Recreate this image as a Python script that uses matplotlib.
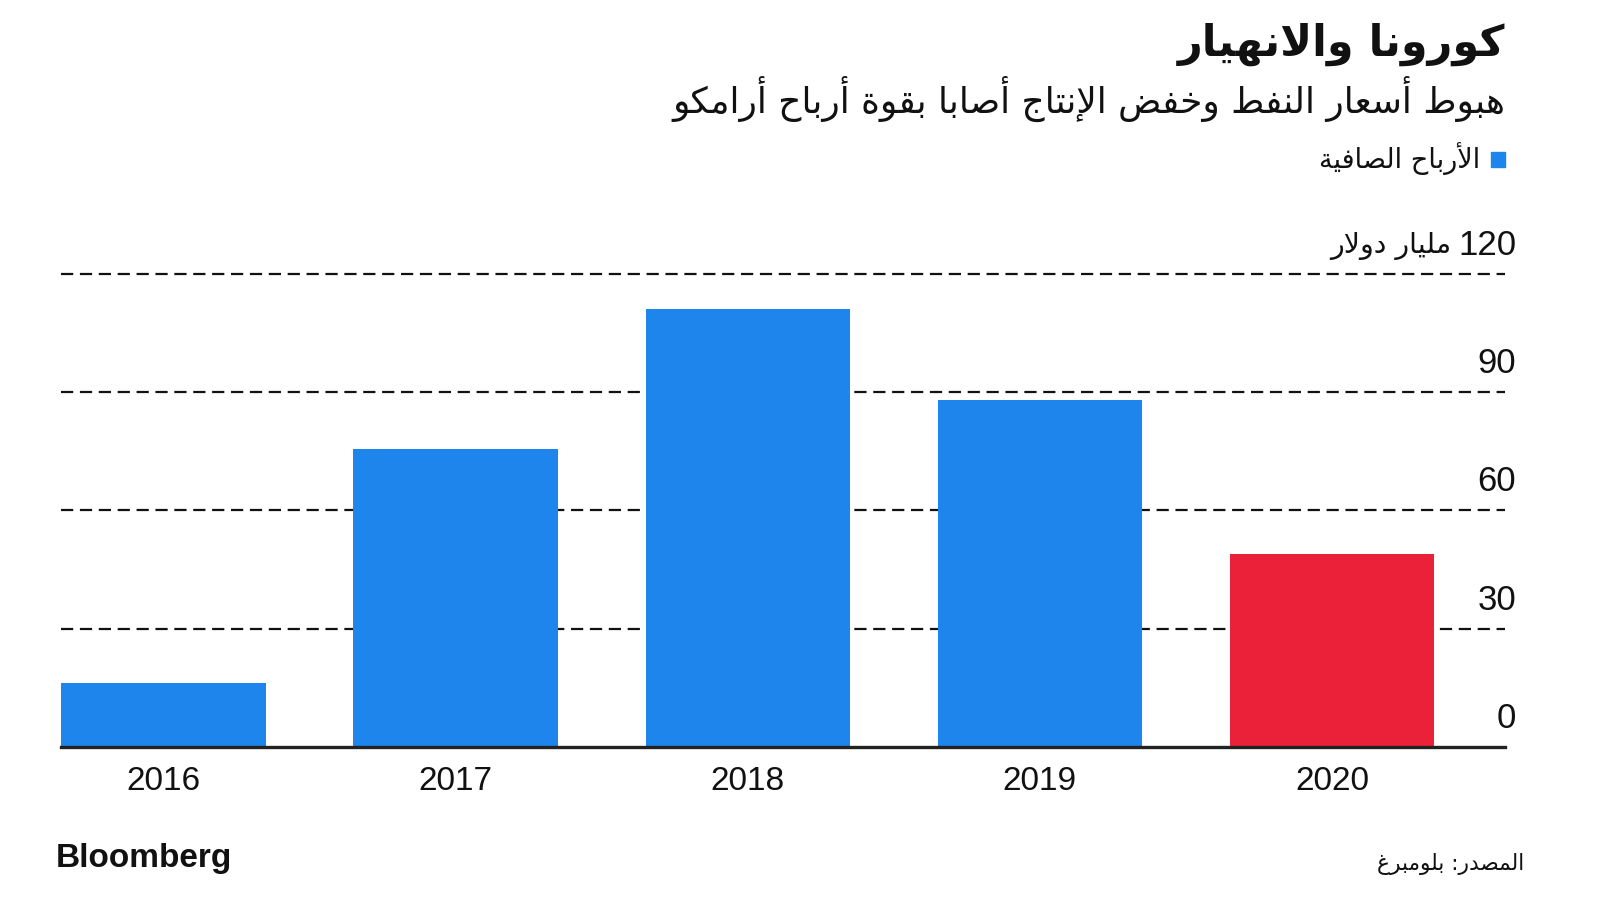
import matplotlib
matplotlib.use("Agg")
import matplotlib.pyplot as plt
from matplotlib.patches import Rectangle

# ---------------- data ----------------
years = ["2016", "2017", "2018", "2019", "2020"]
net_profit = [16.3, 75.4, 111.0, 88.0, 48.9]
bar_colors = ["#1E85EC", "#1E85EC", "#1E85EC", "#1E85EC", "#EB2139"]
y_ticks = [0, 30, 60, 90, 120]
y_tick_labels = ["0", "30", "60", "90", "120"]
unit_label = "مليار دولار"
title = "كورونا والانهيار"
subtitle = "هبوط أسعار النفط وخفض الإنتاج أصابا بقوة أرباح أرامكو"
legend_label = "الأرباح الصافية"
source = "المصدر: بلومبرغ"

# ---------------- minimal Arabic shaping ----------------
FORMS = {
    'ا': (0xFE8D, 0xFE8E, None, None),
    'أ': (0xFE83, 0xFE84, None, None),
    'إ': (0xFE87, 0xFE88, None, None),
    'آ': (0xFE81, 0xFE82, None, None),
    'ب': (0xFE8F, 0xFE90, 0xFE91, 0xFE92),
    'ة': (0xFE93, 0xFE94, None, None),
    'ت': (0xFE95, 0xFE96, 0xFE97, 0xFE98),
    'ث': (0xFE99, 0xFE9A, 0xFE9B, 0xFE9C),
    'ج': (0xFE9D, 0xFE9E, 0xFE9F, 0xFEA0),
    'ح': (0xFEA1, 0xFEA2, 0xFEA3, 0xFEA4),
    'خ': (0xFEA5, 0xFEA6, 0xFEA7, 0xFEA8),
    'د': (0xFEA9, 0xFEAA, None, None),
    'ذ': (0xFEAB, 0xFEAC, None, None),
    'ر': (0xFEAD, 0xFEAE, None, None),
    'ز': (0xFEAF, 0xFEB0, None, None),
    'س': (0xFEB1, 0xFEB2, 0xFEB3, 0xFEB4),
    'ش': (0xFEB5, 0xFEB6, 0xFEB7, 0xFEB8),
    'ص': (0xFEB9, 0xFEBA, 0xFEBB, 0xFEBC),
    'ض': (0xFEBD, 0xFEBE, 0xFEBF, 0xFEC0),
    'ط': (0xFEC1, 0xFEC2, 0xFEC3, 0xFEC4),
    'ظ': (0xFEC5, 0xFEC6, 0xFEC7, 0xFEC8),
    'ع': (0xFEC9, 0xFECA, 0xFECB, 0xFECC),
    'غ': (0xFECD, 0xFECE, 0xFECF, 0xFED0),
    'ف': (0xFED1, 0xFED2, 0xFED3, 0xFED4),
    'ق': (0xFED5, 0xFED6, 0xFED7, 0xFED8),
    'ك': (0xFED9, 0xFEDA, 0xFEDB, 0xFEDC),
    'ل': (0xFEDD, 0xFEDE, 0xFEDF, 0xFEE0),
    'م': (0xFEE1, 0xFEE2, 0xFEE3, 0xFEE4),
    'ن': (0xFEE5, 0xFEE6, 0xFEE7, 0xFEE8),
    'ه': (0xFEE9, 0xFEEA, 0xFEEB, 0xFEEC),
    'و': (0xFEED, 0xFEEE, None, None),
    'ى': (0xFEEF, 0xFEF0, None, None),
    'ي': (0xFEF1, 0xFEF2, 0xFEF3, 0xFEF4),
}
LAM_ALEF = {'ا': (0xFEFB, 0xFEFC), 'أ': (0xFEF7, 0xFEF8),
            'إ': (0xFEF9, 0xFEFA), 'آ': (0xFEF5, 0xFEF6)}


def shape_word(s):
    out = []
    i = 0
    n = len(s)
    prev_joins = False  # previous glyph connects forward
    while i < n:
        c = s[i]
        if c not in FORMS:
            out.append(c)
            prev_joins = False
            i += 1
            continue
        if c == 'ل' and i + 1 < n and s[i + 1] in LAM_ALEF:
            iso, fin = LAM_ALEF[s[i + 1]]
            out.append(chr(fin if prev_joins else iso))
            prev_joins = False
            i += 2
            continue
        iso, fin, ini, med = FORMS[c]
        nxt = s[i + 1] if i + 1 < n else None
        can_next = ini is not None and nxt is not None and nxt in FORMS
        if prev_joins and can_next:
            g = med
        elif prev_joins:
            g = fin
        elif can_next:
            g = ini
        else:
            g = iso
        out.append(chr(g))
        prev_joins = can_next
        i += 1
    return "".join(out)


def ar(s):
    """Return visual (LTR) order of shaped Arabic text."""
    return shape_word(s)[::-1]


# ---------------- figure ----------------
plt.rcParams['font.family'] = ['Liberation Sans', 'DejaVu Sans']
fig = plt.figure(figsize=(16, 9), dpi=100)
W, H = 1600, 900


def fx(px):
    return px / W


def fy(py):
    return 1 - py / H


ax = fig.add_axes([fx(61), fy(747), fx(1505) - fx(61), fy(273.5) - fy(747)])
x = list(range(len(years)))
ax.bar(x, net_profit, width=0.70, color=bar_colors, zorder=3)
ax.set_xlim(-0.351, 4.592)
ax.set_ylim(0, 120)

for v in y_ticks[1:]:
    ax.axhline(v, color="#111111", lw=1.6, linestyle=(0, (5.5, 3)), zorder=1, clip_on=False)
ax.axhline(0, color="#222222", lw=2.4, zorder=4, clip_on=False)

for s in ax.spines.values():
    s.set_visible(False)
ax.set_xticks([])
ax.set_yticks([])

# year labels
for xi, yr in zip(x, years):
    ax.annotate(yr, (xi, 0), xytext=(0, -25), textcoords="offset points",
                ha="center", va="center", fontsize=24, color="#111111")

# y tick labels (right side, above the gridlines)
for v, lab in zip(y_ticks, y_tick_labels):
    t = ax.annotate(lab, (1, v), xycoords=("axes fraction", "data"),
                    xytext=(8, 20.5), textcoords="offset points",
                    ha="right", va="center", fontsize=25, color="#111111")
    if v == 120:
        ax.annotate(ar(unit_label), xy=(0, 0.5), xycoords=t,
                    xytext=(-5, -1), textcoords="offset points",
                    ha="right", va="center", fontsize=20.5, color="#111111",
                    family=['DejaVu Sans'])

# title & subtitle
fig.text(fx(1505), fy(44), ar(title), ha="right", va="center",
         fontsize=31, fontweight="bold", color="#111111",
         family=['DejaVu Sans'])
fig.text(fx(1505), fy(99), ar(subtitle), ha="right", va="center",
         fontsize=25.8, color="#111111", family=['DejaVu Sans'])

# legend
fig.patches.append(Rectangle((fx(1491), fy(167)), fx(14), 15 / H,
                             transform=fig.transFigure, color="#1E85EC"))
fig.text(fx(1480), fy(159), ar(legend_label), ha="right", va="center",
         fontsize=19.5, color="#111111", family=['DejaVu Sans'])

# footer
fig.text(fx(56), fy(859), "Bloomberg", ha="left", va="center",
         fontsize=24, fontweight="bold", color="#111111")
fig.text(fx(1524), fy(864), ar(source), ha="right", va="center",
         fontsize=15.7, color="#111111", family=['DejaVu Sans'])

fig.savefig("out.png", dpi=100, facecolor="white")
